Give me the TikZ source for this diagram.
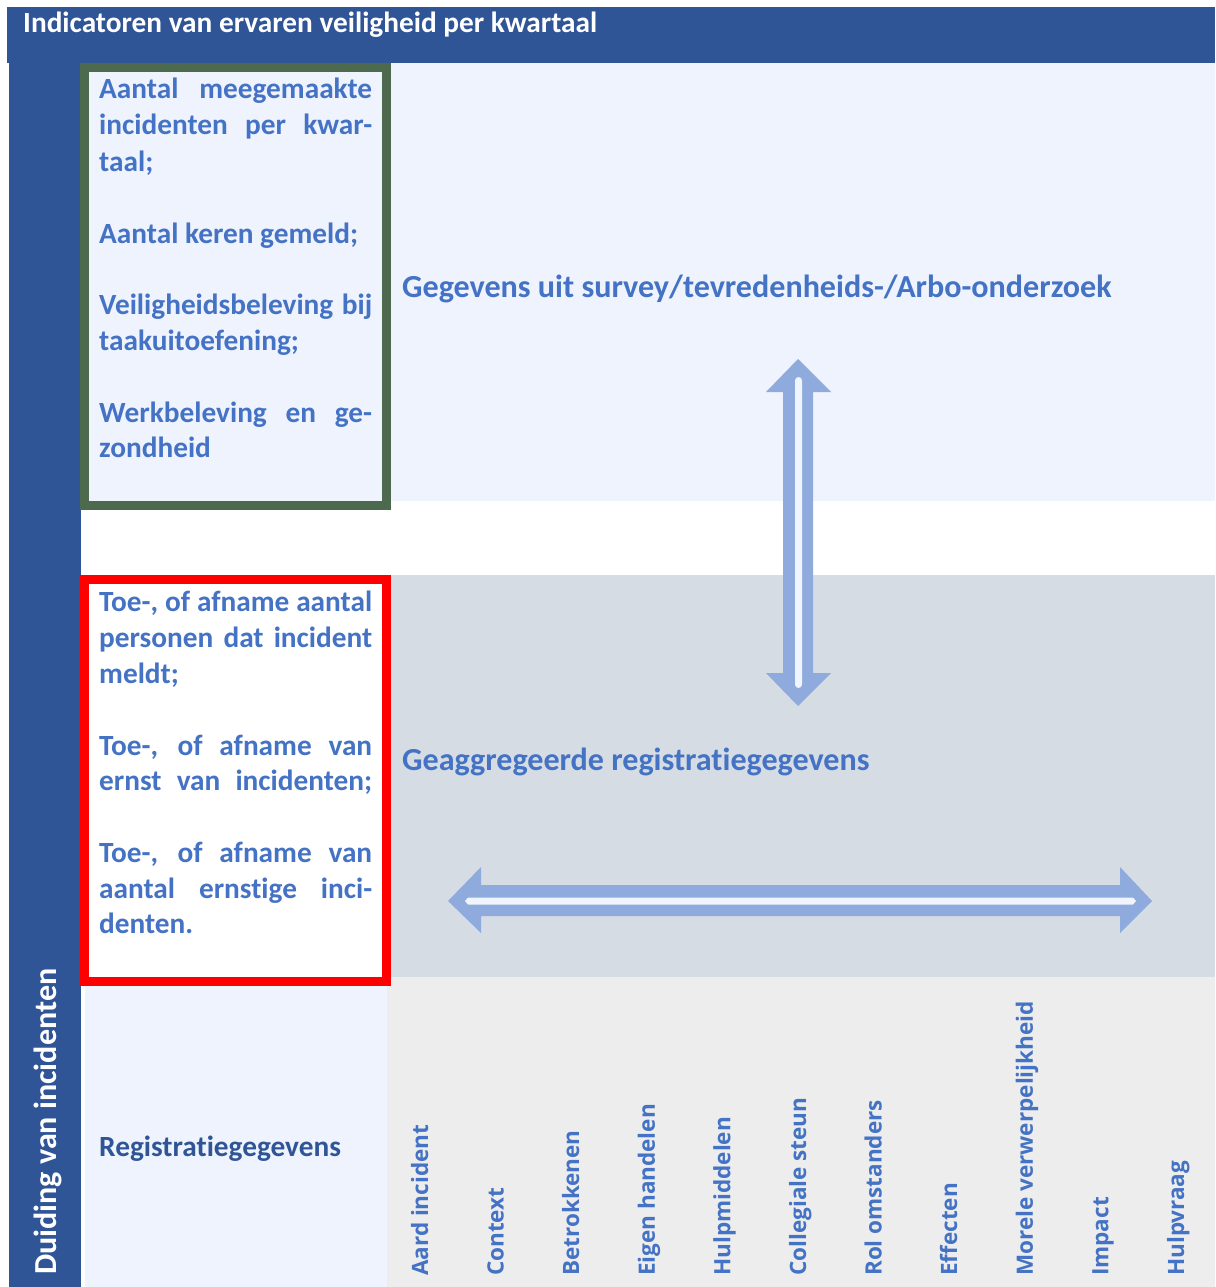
\documentclass[tikz,border=0pt]{standalone}
\usepackage{fontspec}
\setmainfont{Carlito}[Ligatures=NoCommon]
\newfontfamily\labfont{Open Sans}
\definecolor{dkblue}{RGB}{47,85,151}
\definecolor{ltblue}{RGB}{238,243,253}
\definecolor{gblue}{RGB}{214,220,228}
\definecolor{ltgray}{RGB}{237,237,237}
\definecolor{txtblue}{RGB}{68,114,196}
\definecolor{arrowc}{RGB}{143,170,220}
\definecolor{dgreen}{RGB}{78,106,78}
\definecolor{stripec}{RGB}{240,244,252}
\tikzset{
  mainfont/.style={font=\bfseries\fontsize{29.3}{36}\selectfont},
  bigfont/.style={font=\bfseries\fontsize{32.1}{39}\selectfont},
  boxline/.style={mainfont, text=txtblue, anchor=base west, inner sep=0pt},
  bigtxt/.style={bigfont, text=txtblue, anchor=base west, inner sep=0pt},
  lab/.style={rotate=90, anchor=base west, inner sep=0pt, text=txtblue,
     font=\labfont\bfseries\fontsize{22.5}{27}\selectfont},
  framebox/.style={line width=9pt, anchor=north west, inner sep=0pt, outer sep=0pt,
     minimum width=302pt, minimum height=#1},
  arrowshape/.style={fill=arrowc},
  stripe/.style={fill=stripec}
}
\newcommand{\jl}[1]{\makebox[273pt][s]{#1}}
\begin{document}
\begin{tikzpicture}[x=1pt,y=-1pt]
\useasboundingbox (0,0) rectangle (1215,1287);
\fill[white] (0,0) rectangle (1215,1287);
% background bands
\fill[dkblue] (7,7) rectangle (1215,63);
\fill[dkblue] (9,63) rectangle (81,1287);
\fill[ltblue] (81,63) rectangle (1215,501);
\fill[gblue] (391,575) rectangle (1215,977);
\fill[ltgray] (387,977) rectangle (1215,1287);
\fill[ltblue] (85,986) rectangle (387,1287);
% framed boxes
\node[framebox=438pt, draw=dgreen, fill=ltblue] (gbox) at (84.5,67.5) {};
\node[framebox=402pt, draw=red, fill=white] (rbox) at (84.5,579.5) {};
% title
\node[mainfont, text=white, anchor=base west, inner sep=0pt] (title) at (23,33) {Indicatoren van ervaren veiligheid per kwartaal};
\node[bigfont, text=white, anchor=base west, inner sep=0pt, rotate=90] (duiding) at (56,1275) {Duiding van incidenten};
% green box lines
\node[boxline] (g1) at (99,99) {\jl{Aantal meegemaakte}};
\node[boxline] (g2) at (99,135) {\jl{incidenten per kwar-}};
\node[boxline] (g3) at (99,171) {taal;};
\node[boxline] (g4) at (99,243) {Aantal keren gemeld;};
\node[boxline] (g5) at (99,314) {\jl{Veiligheidsbeleving bij}};
\node[boxline] (g6) at (99,350) {taakuitoefening;};
\node[boxline] (g7) at (99,422) {\jl{Werkbeleving en ge-}};
\node[boxline] (g8) at (99,457) {zondheid};
% red box lines
\node[boxline] (r1) at (99,611) {\jl{Toe-, of afname aantal}};
\node[boxline] (r2) at (99,647) {\jl{personen dat incident}};
\node[boxline] (r3) at (99,683) {meldt;};
\node[boxline] (r4) at (99,755) {\jl{Toe-, of afname van}};
\node[boxline] (r5) at (99,790) {\jl{ernst van incidenten;}};
\node[boxline] (r6) at (99,862) {\jl{Toe-, of afname van}};
\node[boxline] (r7) at (99,898) {\jl{aantal ernstige inci-}};
\node[boxline] (r8) at (99,933) {denten.};
% section labels
\node[bigtxt] (survey) at (402,297) {Gegevens uit survey/tevredenheids-/Arbo-onderzoek};
\node[bigtxt] (aggr) at (402,770) {Geaggregeerde registratiegegevens};
\node[boxline, text=dkblue] (reg) at (99,1156) {Registratiegegevens};
% vertical double arrow
\coordinate (vt) at (798,359);
\coordinate (vb) at (798,706);
\fill[arrowshape] (vt) -- (831,392) -- (813,392) -- (813,673) -- (831,673) -- (vb)
   -- (766,673) -- (783,673) -- (783,392) -- (766,392) -- cycle;
\fill[stripe, rounded corners=3.5pt] (795,377) rectangle (802,688);
% horizontal double arrow
\coordinate (hl) at (448,901);
\coordinate (hr) at (1152,901);
\fill[arrowshape] (hl) -- (481,867) -- (481,885) -- (1120,885) -- (1120,867) -- (hr)
   -- (1120,933) -- (1120,916) -- (481,916) -- (481,933) -- cycle;
\fill[stripe] (465,901) -- (468,897.5) -- (1133,897.5) -- (1136,901) -- (1133,904.5) -- (468,904.5) -- cycle;
% rotated item labels
\foreach \t [count=\i] in {Aard incident, Context, Betrokkenen, Eigen handelen, Hulpmiddelen, Collegiale steun, Rol omstanders, Effecten, Morele verwerpelijkheid, Impact, Hulpvraag}
  \node[lab] (item\i) at ({428+75.6*(\i-1)},1276) {\t};
\end{tikzpicture}
\end{document}
